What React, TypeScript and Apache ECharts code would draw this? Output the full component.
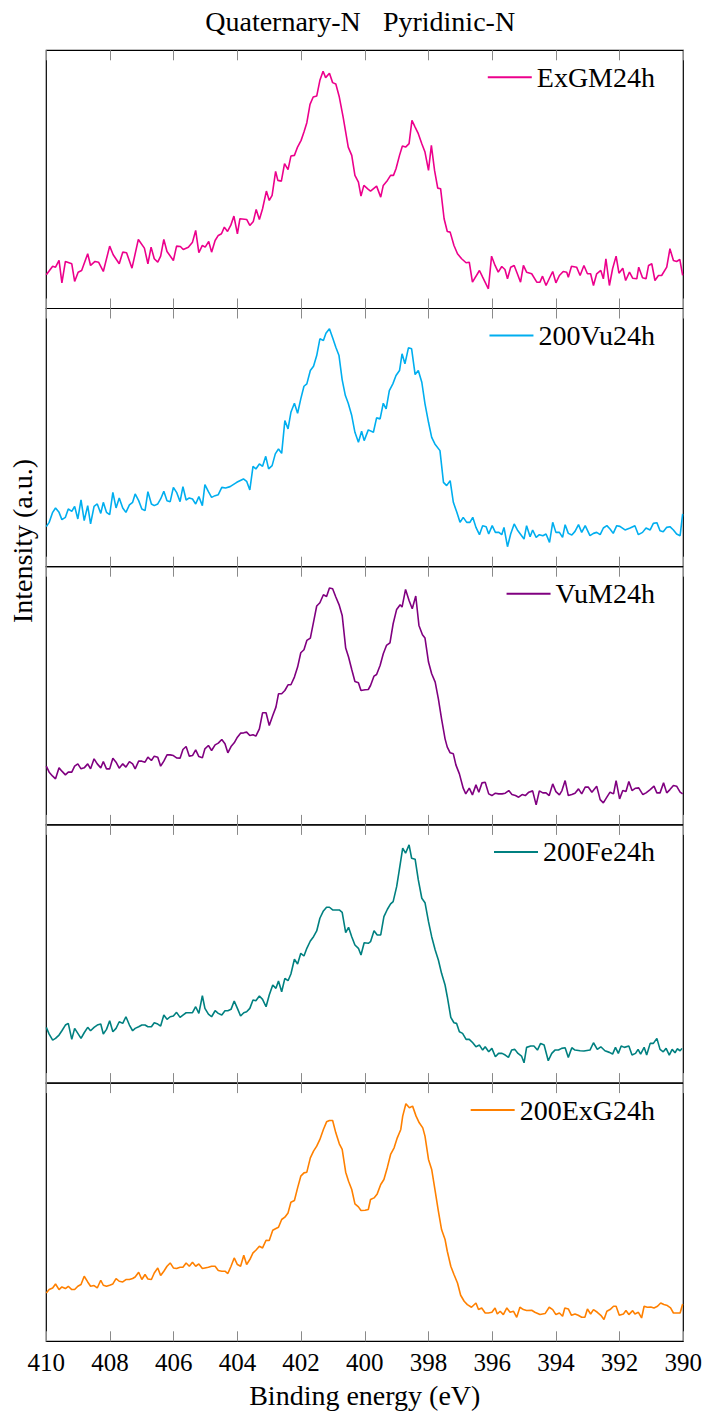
import React, { useEffect, useRef, useState } from "react";
import * as echarts from "echarts";

// ---------- data (binding energy in eV, intensity in a.u.) ----------
const seriesNames = ["ExGM24h", "200Vu24h", "VuM24h", "200Fe24h", "200ExG24h"];
const seriesColors = ["#EC008C", "#00AEEF", "#800080", "#008080", "#FF8000"];
const xTickStep = 2;
const energyMin = 390;
const energyMax = 410;
const titleWords = ["Quaternary-N", "Pyridinic-N"];

const exgm24h: number[][] = [
  [410.0, 33.7], [409.8, 42.3], [409.71, 41.3], [409.6, 48], [409.51, 25.7], [409.4, 47], [409.2, 44.7], [409.11, 27], [409.0, 36.3], [408.89, 38],
  [408.7, 54.7], [408.61, 43], [408.47, 47], [408.36, 46.3], [408.21, 37], [408.01, 62.3], [407.9, 53.7], [407.71, 44.7], [407.6, 56.3], [407.48, 55.7],
  [407.31, 40.3], [407.11, 69], [406.92, 60.3], [406.81, 44.7], [406.71, 61.3], [406.61, 49.7], [406.5, 46.3], [406.41, 52.3], [406.31, 69], [406.21, 57],
  [406.01, 48], [405.91, 62.3], [405.79, 62], [405.7, 59], [405.54, 61.3], [405.41, 66.3], [405.31, 78], [405.21, 55.7], [405.1, 63], [405.01, 61.3],
  [404.9, 67], [404.81, 56.3], [404.7, 68], [404.6, 73], [404.5, 74.7], [404.41, 81.3], [404.31, 77], [404.21, 83], [404.11, 92.3], [404.0, 74.7],
  [403.92, 89.7], [403.71, 89], [403.61, 83], [403.5, 87], [403.41, 99], [403.31, 89], [403.21, 99.7], [403.09, 117.3], [403.0, 108], [402.91, 113],
  [402.8, 137], [402.73, 128], [402.62, 127.3], [402.52, 144.7], [402.41, 138.7], [402.32, 152.3], [402.21, 153], [402.12, 160.7], [402.0, 168], [401.91, 176.3],
  [401.82, 185.7], [401.72, 204], [401.62, 211.3], [401.51, 212.3], [401.41, 228], [401.31, 237], [401.23, 230.7], [401.11, 235], [401.01, 225.7], [400.91, 224.3],
  [400.8, 211.3], [400.68, 191.3], [400.52, 161.3], [400.41, 153], [400.31, 133], [400.2, 126.3], [400.12, 112.3], [400.03, 123], [399.89, 119],
  [399.82, 117.3], [399.63, 122.3], [399.5, 111.3], [399.42, 123], [399.29, 128], [399.19, 133], [399.1, 133], [399.02, 139.7], [398.91, 153], [398.82, 162.3],
  [398.72, 161.3], [398.61, 164.7], [398.52, 188], [398.42, 181.3], [398.32, 174.7], [398.21, 164.7], [398.11, 156.3], [398.0, 138], [397.91, 163], [397.81, 138],
  [397.71, 120.3], [397.62, 119.7], [397.51, 89.7], [397.41, 77], [397.32, 76.3], [397.2, 63], [397.09, 54.7], [396.96, 49.7], [396.82, 45.7], [396.72, 46.3],
  [396.62, 26.3], [396.4, 38], [396.3, 31.3], [396.12, 19.7], [396.02, 52.3], [395.91, 43], [395.81, 36.3], [395.7, 42], [395.6, 39], [395.52, 29.7],
  [395.42, 41.3], [395.31, 43], [395.21, 34.7], [395.11, 26.3], [395.02, 43], [394.92, 36.3], [394.76, 34.7], [394.6, 26.3], [394.5, 26.3], [394.42, 32.3],
  [394.31, 23], [394.21, 29.7], [394.1, 37], [394.0, 25.7], [393.89, 33], [393.77, 37], [393.66, 36.3], [393.61, 31.3], [393.51, 42.3], [393.35, 41.3],
  [393.24, 33], [393.12, 43], [393.01, 34.7], [392.91, 34.7], [392.82, 23], [392.72, 34.7], [392.59, 38], [392.51, 29.7], [392.43, 49.7], [392.32, 23],
  [392.22, 39.7], [392.11, 52.3], [392.02, 35.3], [391.9, 40.3], [391.81, 28], [391.69, 36.3], [391.59, 30.3], [391.46, 29.7], [391.4, 41.3], [391.28, 30.7],
  [391.17, 29.7], [391.09, 43], [390.99, 44.7], [390.89, 28], [390.78, 33], [390.68, 33], [390.52, 41.3], [390.42, 59.7], [390.31, 48], [390.21, 47],
  [390.11, 49], [390.02, 33],
];

const vu200_24h: number[][] = [
  [410.0, 40], [409.91, 44.3], [409.8, 54.3], [409.71, 58.7], [409.6, 54.3], [409.51, 47], [409.4, 49.3], [409.31, 57.7], [409.2, 55.3], [409.11, 60.3],
  [409.01, 47.7], [408.91, 66.7], [408.81, 46], [408.7, 61], [408.61, 42.7], [408.5, 60.3], [408.4, 62.7], [408.29, 53.3], [408.21, 64.3], [408.11, 54.3],
  [408.01, 52], [407.91, 74.3], [407.81, 58.7], [407.71, 68.7], [407.6, 58.7], [407.5, 54.3], [407.39, 61.7], [407.29, 64.3], [407.21, 72.7], [407.1, 66],
  [407.0, 57.7], [406.9, 56], [406.81, 75], [406.7, 62.7], [406.61, 61], [406.5, 62.7], [406.41, 67.7], [406.31, 75.3], [406.21, 66], [406.11, 65],
  [406.01, 79.3], [405.91, 74.3], [405.8, 65], [405.71, 80], [405.61, 66.7], [405.51, 68.7], [405.41, 67.7], [405.31, 62.7], [405.21, 70], [405.1, 61],
  [405.02, 82], [404.91, 75], [404.81, 69.3], [404.7, 71], [404.6, 72], [404.49, 79.3], [404.37, 78.7], [404.23, 80], [404.02, 84.3], [403.81, 87.7],
  [403.71, 85.3], [403.61, 76.7], [403.51, 100.3], [403.42, 97.7], [403.31, 102.7], [403.21, 100.3], [403.11, 110.3], [403.02, 97.7], [402.91, 101], [402.81, 112.7],
  [402.71, 117.7], [402.61, 113.3], [402.51, 146], [402.41, 137.7], [402.32, 154.3], [402.21, 163.3], [402.11, 153.3], [402.01, 167.7], [401.91, 180.3], [401.82, 182.7],
  [401.71, 196], [401.61, 200.3], [401.51, 211], [401.41, 227.7], [401.3, 226], [401.22, 233.3], [401.11, 237.7], [401.01, 228.7], [400.91, 219.3], [400.81, 211],
  [400.71, 186.7], [400.61, 171], [400.52, 163.3], [400.41, 151], [400.31, 134.3], [400.2, 124.3], [400.1, 135.3], [400.02, 126], [399.89, 136.7],
  [399.73, 134.3], [399.63, 148.7], [399.52, 147.7], [399.42, 163.3], [399.33, 157.7], [399.23, 176], [399.12, 182.7], [399.02, 191], [398.91, 196], [398.83, 212.7],
  [398.74, 202.7], [398.63, 218.7], [398.53, 217.7], [398.42, 192], [398.32, 196], [398.21, 184.3], [398.11, 162.7], [398.0, 144.3], [397.9, 129.3], [397.8, 122.7],
  [397.64, 116], [397.53, 84.3], [397.43, 81], [397.32, 86], [397.22, 64.3], [397.11, 54.3], [397.01, 44.3], [396.91, 49.3], [396.8, 44.3], [396.7, 44.3],
  [396.61, 49.3], [396.51, 39.3], [396.4, 32], [396.3, 41], [396.19, 40], [396.11, 32.7], [396.0, 41], [395.9, 34.3], [395.79, 34.3], [395.7, 32],
  [395.63, 39.3], [395.52, 20], [395.42, 32.7], [395.31, 42.7], [395.21, 36.7], [395.1, 32], [395.0, 27.7], [394.92, 41], [394.81, 30], [394.73, 36.7],
  [394.62, 29.3], [394.52, 32], [394.41, 31], [394.31, 32.7], [394.2, 24.3], [394.1, 44.3], [394.0, 34.3], [393.89, 34.3], [393.79, 29.3], [393.71, 42],
  [393.61, 33.3], [393.5, 31.7], [393.4, 35.3], [393.29, 42], [393.19, 34.3], [393.08, 41], [392.93, 31], [392.82, 33.3], [392.72, 34.3], [392.61, 32],
  [392.51, 38.7], [392.4, 41], [392.3, 37.7], [392.2, 33.3], [392.09, 41], [391.99, 40.3], [391.83, 36.7], [391.67, 38.7], [391.52, 41], [391.41, 32],
  [391.28, 34.3], [391.17, 38.7], [391.04, 36.7], [390.94, 43.3], [390.83, 44], [390.73, 36], [390.63, 35], [390.52, 39.3], [390.42, 40], [390.31, 36.7],
  [390.21, 32.7], [390.1, 31], [390.02, 52.7],
];

const vum24h: number[][] = [
  [410.0, 58.7], [409.91, 52.7], [409.8, 48.7], [409.71, 46], [409.6, 57], [409.51, 53.7], [409.4, 50], [409.31, 52.7], [409.2, 52.7], [409.11, 58.7],
  [409.01, 61], [408.91, 56], [408.81, 57], [408.7, 61], [408.61, 56], [408.5, 66], [408.4, 61], [408.29, 57], [408.21, 63.3], [408.11, 56],
  [408.01, 56], [407.91, 66.7], [407.81, 62.7], [407.71, 56.7], [407.6, 61], [407.5, 57.7], [407.39, 63.3], [407.29, 61], [407.21, 56], [407.1, 63.7],
  [407.0, 63.7], [406.9, 62.7], [406.81, 67.7], [406.7, 64.3], [406.61, 68.7], [406.5, 67.7], [406.41, 58.7], [406.31, 63.7], [406.21, 70], [406.11, 70],
  [406.01, 69.3], [405.91, 67], [405.8, 66.7], [405.71, 75.3], [405.61, 78.3], [405.51, 68.7], [405.41, 69.3], [405.31, 75], [405.21, 68.3], [405.1, 67],
  [405.02, 76], [404.91, 79.3], [404.81, 74.3], [404.7, 80], [404.6, 81.7], [404.49, 85.3], [404.39, 81], [404.3, 72], [404.2, 78.3], [404.1, 82],
  [404.0, 87.7], [403.9, 91.7], [403.8, 92], [403.71, 92.7], [403.61, 89.3], [403.51, 90], [403.42, 88.7], [403.31, 96], [403.21, 112], [403.1, 112],
  [403.0, 99.3], [402.89, 109.3], [402.79, 117.7], [402.71, 131], [402.61, 131], [402.51, 134.3], [402.41, 140], [402.32, 140], [402.21, 147.7], [402.11, 157.7],
  [402.01, 172], [401.91, 175], [401.82, 184.3], [401.71, 186.7], [401.61, 202.7], [401.51, 218.7], [401.41, 222], [401.3, 230], [401.2, 228.3], [401.11, 236.7],
  [401.01, 236], [400.91, 227.7], [400.8, 219.3], [400.71, 209.3], [400.6, 176.7], [400.51, 167.7], [400.41, 155.3], [400.31, 143.3], [400.2, 142], [400.12, 134.3],
  [399.99, 135], [399.89, 135.3],
  [399.82, 139.3], [399.71, 148.7], [399.63, 150.3], [399.52, 159.3], [399.42, 171], [399.32, 179.3], [399.21, 182], [399.11, 201], [399.0, 215.3], [398.89, 220],
  [398.83, 217.7], [398.72, 235.3], [398.61, 224.3], [398.51, 216], [398.4, 228.7], [398.3, 199.3], [398.19, 190], [398.11, 186.7], [398.0, 162.7], [397.9, 151],
  [397.79, 142.7], [397.69, 126], [397.59, 106], [397.48, 86], [397.41, 77.7], [397.32, 72], [397.22, 71], [397.14, 60], [397.03, 51], [396.91, 36.7],
  [396.83, 31], [396.72, 36.7], [396.62, 30], [396.51, 40], [396.42, 32.7], [396.32, 42], [396.22, 42.7], [396.11, 31], [396.01, 29.3], [395.9, 31.7],
  [395.8, 31], [395.69, 31], [395.59, 31.7], [395.48, 34.3], [395.38, 30.3], [395.27, 29.3], [395.17, 27.7], [395.06, 30.3], [394.96, 29.3], [394.85, 32.7],
  [394.73, 34], [394.62, 20], [394.52, 34], [394.41, 32], [394.31, 32], [394.21, 29.3], [394.1, 41], [394.0, 33.3], [393.89, 30], [393.81, 34.3],
  [393.71, 44.3], [393.61, 29.3], [393.5, 30.3], [393.4, 31.7], [393.29, 36], [393.19, 31], [393.08, 37.7], [392.98, 37.7], [392.87, 32.7], [392.72, 38.7],
  [392.61, 25.3], [392.51, 22], [392.4, 27.7], [392.3, 32.7], [392.19, 31], [392.11, 44.3], [392.0, 26], [391.9, 34.3], [391.8, 33.3], [391.71, 43.3],
  [391.61, 34.3], [391.5, 36.7], [391.4, 37], [391.27, 30.3], [391.17, 32], [391.04, 35.3], [390.92, 38.7], [390.83, 32], [390.73, 32], [390.62, 42],
  [390.52, 32], [390.42, 35.3], [390.31, 39.3], [390.21, 38.7], [390.1, 32.7], [390.02, 31],
];

const fe200_24h: number[][] = [
  [410.0, 55.7], [409.91, 49], [409.8, 43], [409.71, 44.7], [409.6, 48], [409.51, 52.3], [409.4, 58], [409.31, 59.7], [409.2, 43.7], [409.11, 54.7],
  [409.01, 49.7], [408.91, 44.7], [408.81, 50.3], [408.7, 55.7], [408.61, 52.3], [408.5, 55.7], [408.4, 58], [408.29, 59], [408.21, 49], [408.11, 53.7],
  [408.01, 62.3], [407.91, 51.3], [407.81, 54.7], [407.71, 61.3], [407.6, 59.7], [407.5, 66.3], [407.39, 58], [407.29, 52.3], [407.21, 54.7], [407.1, 56.3],
  [407.0, 58], [406.9, 58], [406.81, 56.3], [406.7, 56.3], [406.61, 60.3], [406.5, 59], [406.41, 57], [406.31, 68], [406.21, 63.7], [406.11, 66.3],
  [406.01, 67], [405.91, 70.7], [405.8, 65.7], [405.71, 68], [405.61, 70.3], [405.51, 70.3], [405.41, 70.3], [405.31, 76.3], [405.21, 69.7], [405.1, 87.3],
  [405.02, 74.7], [404.91, 69], [404.81, 66.3], [404.7, 72.3], [404.6, 69.7], [404.49, 68], [404.39, 72.3], [404.3, 72.3], [404.2, 73.7], [404.1, 82],
  [404.0, 74.7], [403.9, 67], [403.8, 70.3], [403.71, 71.3], [403.61, 74.7], [403.51, 83], [403.42, 82.3], [403.31, 87], [403.21, 83.7], [403.1, 76.3],
  [403.0, 88], [402.89, 98], [402.79, 94.7], [402.71, 102], [402.61, 91.3], [402.51, 104.7], [402.41, 102.3], [402.32, 109], [402.21, 123.7], [402.11, 119],
  [402.01, 129.7], [401.91, 127], [401.82, 134.7], [401.71, 142], [401.61, 146.3], [401.51, 152], [401.41, 164.7], [401.3, 172], [401.2, 175.7], [401.11, 175.7],
  [401.01, 173], [400.91, 173], [400.8, 173], [400.71, 170.7], [400.6, 150.3], [400.51, 155.7], [400.41, 146.3], [400.31, 138], [400.2, 134.7], [400.12, 128],
  [400.02, 140.3], [399.89, 139.7],
  [399.82, 141.3], [399.71, 152.3], [399.61, 148], [399.5, 148], [399.4, 166.3], [399.29, 173.7], [399.19, 179], [399.11, 181.3], [399.0, 196.3], [398.92, 212.3],
  [398.81, 234.7], [398.72, 229.7], [398.61, 238], [398.53, 224.7], [398.42, 223.7], [398.32, 203], [398.21, 184.7], [398.11, 180.3], [398.0, 161.3], [397.9, 146.3],
  [397.79, 133], [397.69, 123], [397.59, 109.7], [397.48, 98], [397.41, 86.3], [397.3, 65.7], [397.2, 60.3], [397.12, 59.7], [397.03, 51.3], [396.93, 49.7],
  [396.82, 43.7], [396.72, 43.7], [396.61, 40.3], [396.51, 36.3], [396.4, 38], [396.3, 33], [396.22, 36.3], [396.11, 31.3], [396.01, 34.7], [395.9, 26.3],
  [395.8, 29.7], [395.69, 29.7], [395.59, 28], [395.49, 25.7], [395.39, 33], [395.29, 33.7], [395.19, 29.7], [395.08, 27], [395.0, 20.3], [394.92, 35.7],
  [394.79, 37], [394.69, 37], [394.58, 33], [394.48, 39.7], [394.37, 38], [394.24, 22.3], [394.13, 29.7], [394.03, 33], [393.92, 33], [393.82, 34.7],
  [393.71, 35.3], [393.61, 25.7], [393.5, 35.3], [393.4, 33], [393.24, 32.3], [393.12, 32], [392.93, 33], [392.82, 40.3], [392.7, 33.7], [392.59, 36.3],
  [392.46, 32.3], [392.32, 30.7], [392.22, 29], [392.13, 35.7], [392.04, 29.7], [391.95, 37], [391.85, 35.7], [391.71, 37], [391.61, 28], [391.5, 29.7],
  [391.42, 33.7], [391.34, 29], [391.23, 35.7], [391.15, 28], [391.04, 39.7], [390.94, 39.7], [390.83, 44.7], [390.73, 33.7], [390.63, 31.3], [390.54, 34.7],
  [390.44, 28], [390.35, 33.7], [390.26, 30.3], [390.19, 34.3], [390.1, 32.3], [390.04, 34.7],
];

const exg200_24h: number[][] = [
  [410.0, 48.3], [409.91, 51.7], [409.8, 53.3], [409.71, 57.3], [409.6, 51.7], [409.51, 54.3], [409.4, 52.7], [409.31, 55], [409.2, 51.7], [409.11, 51.7],
  [409.01, 55], [408.91, 56.7], [408.81, 65], [408.7, 59.3], [408.61, 55], [408.5, 55.7], [408.4, 53.3], [408.29, 61], [408.21, 56], [408.11, 55],
  [408.01, 56], [407.91, 57.3], [407.81, 62.7], [407.71, 60], [407.6, 59.3], [407.5, 61.7], [407.39, 61.7], [407.29, 62.7], [407.21, 64.3], [407.1, 69],
  [407.0, 61.7], [406.9, 66.7], [406.81, 62.3], [406.7, 61.7], [406.61, 68.3], [406.5, 73.3], [406.41, 65.7], [406.31, 70], [406.21, 75], [406.11, 78.3],
  [406.01, 73.3], [405.91, 72.7], [405.8, 74], [405.71, 74], [405.61, 78.3], [405.51, 75], [405.41, 79], [405.31, 75], [405.21, 77.3], [405.1, 72.7],
  [405.02, 73.3], [404.91, 74], [404.81, 75], [404.7, 75], [404.6, 70.7], [404.49, 70], [404.39, 70], [404.3, 67.7], [404.2, 75], [404.1, 83.3],
  [404.0, 76.7], [403.9, 75], [403.8, 86], [403.71, 76.7], [403.61, 81.7], [403.51, 88.3], [403.42, 91], [403.31, 95], [403.21, 93.3], [403.1, 101],
  [403.0, 100.7], [402.89, 111], [402.79, 112.7], [402.71, 114], [402.61, 121.7], [402.51, 124], [402.41, 128.3], [402.32, 139], [402.21, 140.7], [402.11, 153.3],
  [402.01, 165], [401.91, 168.3], [401.82, 169], [401.71, 183.3], [401.61, 190], [401.51, 195], [401.41, 201.7], [401.3, 211.7], [401.2, 219.3], [401.11, 220.7],
  [401.01, 220.7], [400.91, 208.3], [400.8, 197.3], [400.71, 191.7], [400.6, 169], [400.51, 160], [400.41, 151.7], [400.31, 137.3], [400.2, 134.3], [400.12, 130.7],
  [399.99, 131], [399.89, 131.7],
  [399.82, 141.7], [399.71, 143.3], [399.61, 147.3], [399.5, 156.7], [399.4, 161.7], [399.29, 174], [399.19, 186.7], [399.08, 193.3], [398.98, 203.3], [398.87, 211.7],
  [398.81, 225], [398.71, 237.3], [398.6, 233.3], [398.5, 235], [398.39, 225], [398.29, 218.3], [398.18, 213.3], [398.11, 205], [398.0, 181.7], [397.9, 171.7],
  [397.79, 150], [397.69, 130], [397.59, 111.7], [397.48, 101.7], [397.41, 90], [397.3, 75], [397.2, 66.7], [397.09, 58.3], [396.99, 46], [396.88, 40],
  [396.78, 36.7], [396.65, 34], [396.51, 38.3], [396.43, 31.7], [396.33, 33.3], [396.22, 28.3], [396.12, 28.3], [396.01, 29], [395.91, 33.3], [395.84, 27.3],
  [395.75, 30], [395.65, 26.7], [395.54, 33.3], [395.44, 29], [395.33, 30], [395.23, 24], [395.13, 34], [395.02, 31.7], [394.92, 30.7], [394.76, 31],
  [394.66, 29], [394.5, 26.7], [394.34, 27.7], [394.21, 34], [394.1, 31.7], [394.0, 26.7], [393.89, 28.3], [393.79, 25], [393.72, 33.3], [393.61, 32.3],
  [393.51, 26], [393.4, 27.3], [393.3, 26], [393.19, 24], [393.09, 24], [393.01, 32.3], [392.91, 27.3], [392.82, 31.7], [392.7, 29], [392.59, 26],
  [392.49, 21.7], [392.4, 30], [392.3, 31.7], [392.19, 35], [392.11, 35], [392.01, 26], [391.88, 27.3], [391.8, 30.7], [391.71, 26.7], [391.59, 30.7],
  [391.52, 27.3], [391.41, 29], [391.31, 23.3], [391.23, 35], [391.13, 34], [391.02, 34.3], [390.92, 33.3], [390.81, 35], [390.71, 38.3], [390.61, 36.7],
  [390.5, 35.7], [390.4, 33.3], [390.31, 28.3], [390.21, 28.3], [390.1, 28.3], [390.02, 37.3],
];

const seriesData = [exgm24h, vu200_24h, vum24h, fe200_24h, exg200_24h];

// ---------- layout ----------
const FONT = "Liberation Serif";
const PLOT_LEFT = 46.3;
const PLOT_WIDTH = 637;
const PANEL_TOP0 = 50.3;
const PANEL_H = 258.2;
const Y_MAX = 258;

function buildOption() {
  const grid: any[] = [];
  const xAxis: any[] = [];
  const yAxis: any[] = [];
  const series: any[] = [];
  const legend: any[] = [];
  const n = seriesNames.length;

  for (let i = 0; i < n; i++) {
    const top = PANEL_TOP0 + i * PANEL_H;
    const last = i === n - 1;
    grid.push({
      left: PLOT_LEFT,
      top,
      width: PLOT_WIDTH,
      height: PANEL_H,
      show: true,
      borderColor: "#000",
      borderWidth: 1.2,
      backgroundColor: "transparent",
    });
    const baseX = {
      type: "value",
      gridIndex: i,
      min: energyMin,
      max: energyMax,
      interval: xTickStep,
      inverse: true,
      axisLine: { show: false },
      axisTick: { show: true, inside: true, length: 10, lineStyle: { color: "#8a8a8a", width: 1 } },
      splitLine: { show: false },
    };
    xAxis.push({
      ...baseX,
      position: "bottom",
      axisLabel: last
        ? { show: true, color: "#000", fontFamily: FONT, fontSize: 25, margin: 9 }
        : { show: false },
      name: last ? "Binding energy (eV)" : "",
      nameLocation: "middle",
      nameGap: 40,
      nameTextStyle: { color: "#000", fontFamily: FONT, fontSize: 28 },
    });
    xAxis.push({ ...baseX, position: "top", axisLabel: { show: false } });
    yAxis.push({ type: "value", gridIndex: i, min: 0, max: Y_MAX, show: false });
    series.push({
      type: "line",
      name: seriesNames[i],
      xAxisIndex: 2 * i,
      yAxisIndex: i,
      data: seriesData[i],
      symbol: "none",
      showSymbol: false,
      lineStyle: { color: seriesColors[i], width: 1.6 },
      itemStyle: { color: seriesColors[i] },
      clip: true,
    });
    legend.push({
      data: [seriesNames[i]],
      right: 51,
      top: top + 13,
      padding: 0,
      icon: "rect",
      itemWidth: 44,
      itemHeight: 2,
      selectedMode: false,
      textStyle: { color: "#000", fontFamily: FONT, fontSize: 28 },
    });
  }

  const graphic: any[] = [
    {
      type: "text",
      x: 283,
      y: 21,
      style: { text: titleWords[0], fontFamily: FONT, fontSize: 28, fill: "#000", textAlign: "center", textVerticalAlign: "middle" },
    },
    {
      type: "text",
      x: 449,
      y: 21,
      style: { text: titleWords[1], fontFamily: FONT, fontSize: 28, fill: "#000", textAlign: "center", textVerticalAlign: "middle" },
    },
    {
      type: "text",
      x: 22,
      y: 541,
      rotation: Math.PI / 2,
      style: { text: "Intensity (a.u.)", fontFamily: FONT, fontSize: 28, fill: "#000", textAlign: "center", textVerticalAlign: "middle" },
    },
  ];

  return {
    animation: false,
    backgroundColor: "#fff",
    grid,
    xAxis,
    yAxis,
    series,
    legend,
    graphic,
  };
}

export default function App() {
  const ref = useRef<HTMLDivElement>(null);
  const [phase, setPhase] = useState(0);
  useEffect(() => {
    let chart: any = null;
    let disposed = false;
    const timers: any[] = [];
    const start = () => {
      if (disposed || chart || !ref.current) return;
      chart = echarts.init(ref.current, null, { renderer: "svg" });
      chart.setOption(buildOption() as any);
      setPhase(1);
      timers.push(setTimeout(() => setPhase(2), 150));
    };
    const fonts = (document as any).fonts;
    if (fonts && typeof fonts.load === "function") {
      Promise.all([
        fonts.load(`28px "${FONT}"`),
        fonts.load(`25px "${FONT}"`),
      ]).then(start, start);
      timers.push(setTimeout(start, 300));
    } else {
      start();
    }
    return () => {
      disposed = true;
      timers.forEach((t) => clearTimeout(t));
      if (chart) chart.dispose();
    };
  }, []);
  return (
    <div data-phase={phase} style={{ position: "fixed", left: 0, top: 0, width: 706, height: 1417, background: "#fff" }}>
      <div ref={ref} style={{ position: "absolute", left: 0, top: 0, width: 706, height: 1417 }} />
    </div>
  );
}
